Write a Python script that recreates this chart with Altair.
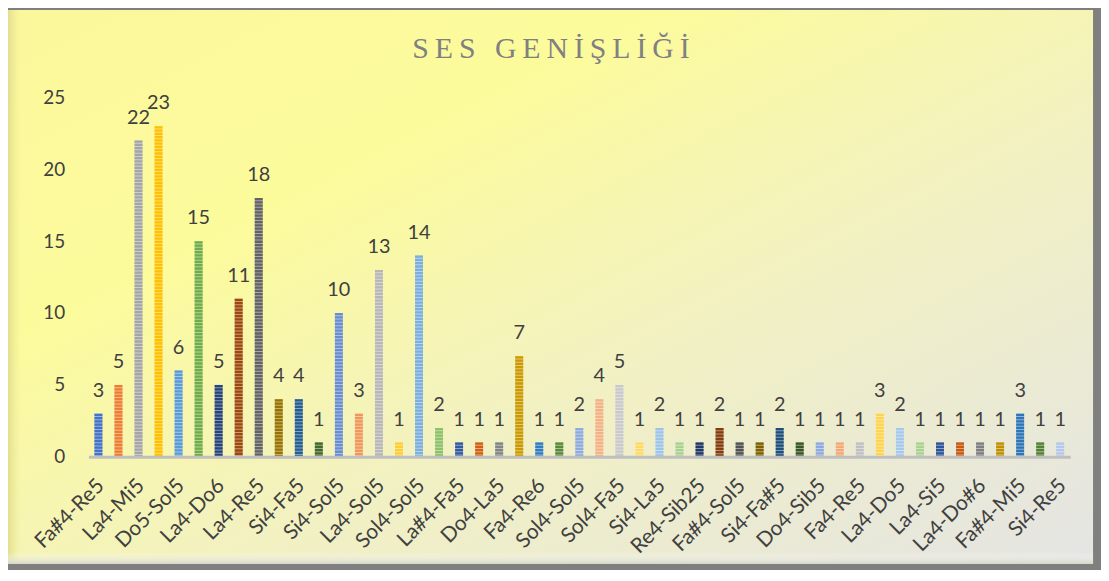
import altair as alt
import pandas as pd

# ---- data ----
values = [3, 5, 22, 23, 6, 15, 5, 11, 18, 4, 4, 1, 10, 3, 13, 1, 14, 2, 1, 1,
          1, 7, 1, 1, 2, 4, 5, 1, 2, 1, 1, 2, 1, 1, 2, 1, 1, 1, 1, 3,
          2, 1, 1, 1, 1, 1, 3, 1, 1]
# labels shown under every other bar (bars 1, 3, 5, ...)
shown_labels = ["Fa#4-Re5", "La4-Mi5", "Do5-Sol5", "La4-Do6", "La4-Re5", "Si4-Fa5",
                "Si4-Sol5", "La4-Sol5", "Sol4-Sol5", "La#4-Fa5", "Do4-La5", "Fa4-Re6",
                "Sol4-Sol5", "Sol4-Fa5", "Si4-La5", "Re4-Sib25", "Fa#4-Sol5", "Si4-Fa#5",
                "Do4-Sib5", "Fa4-Re5", "La4-Do5", "La4-Si5", "La4-Do#6", "Fa#4-Mi5", "Si4-Re5"]
title_text = "SES GENİŞLİĞİ"

colors = ["#4472C4", "#ED7D31", "#A5A5A5", "#FFC000", "#5B9BD5", "#70AD47",
          "#264478", "#9E480E", "#636363", "#997300", "#255E91", "#43682B",
          "#698ED0", "#F1975A", "#B7B7B7", "#FFCD33", "#7CAFDD", "#8CC168",
          "#335AA1", "#D26012", "#848484", "#CC9A00", "#327DC2", "#5A8A39",
          "#8FAADC", "#F4B183", "#C9C9C9", "#FFD966", "#9DC3E6", "#A9D18E",
          "#203864", "#843C0C", "#525252", "#7F6000", "#1F4E79", "#385723",
          "#8EA9DB", "#F3A875", "#C0C0C0", "#FFD34D", "#A5C8EA", "#A9D18E",
          "#2F5597", "#C55A11", "#7F7F7F", "#BF9000", "#2E75B6", "#548235", "#B4C7E7"]


def tint(hexc, f=0.45):
    h = hexc.lstrip("#")
    r, g, b = (int(h[i:i + 2], 16) for i in (0, 2, 4))
    r, g, b = (round(c + (255 - c) * f) for c in (r, g, b))
    return "#%02X%02X%02X" % (r, g, b)


tints = [tint(c) for c in colors]

n = len(values)
idx = list(range(n))
all_labels = []
for i in idx:
    all_labels.append(shown_labels[i // 2] if i % 2 == 0 else "")

df = pd.DataFrame({"idx": idx, "value": values})

label_expr = "[" + ",".join("'" + s + "'" for s in all_labels) + "][datum.value]"

FONT = "Lato"
TXT = "#404040"

x_enc = alt.X("idx:O",
              scale=alt.Scale(paddingInner=0, paddingOuter=0),
              axis=alt.Axis(title=None, labelAngle=-45, labelExpr=label_expr,
                            labelFontSize=21, labelFont=FONT, labelColor=TXT,
                            labelPadding=18, labelOffset=-5, ticks=False, domainColor="#BFBFBF",
                            domainWidth=3, grid=False, labelOverlap=False, zindex=1))
y_enc = alt.Y("value:Q",
              scale=alt.Scale(domain=[0, 25], nice=False),
              axis=alt.Axis(title=None, values=[0, 5, 10, 15, 20, 25], labelFontSize=19,
                            labelFont=FONT, labelColor=TXT, labelPadding=24,
                            domain=False, ticks=False, grid=False, zindex=1))

# background panel with gradient
bg = alt.Chart(pd.DataFrame({"a": [0]})).mark_rect(
    fill=alt.Gradient(gradient="linear", x1=0, y1=0, x2=1, y2=1,
                      stops=[alt.GradientStop(color="#FBF89C", offset=0),
                             alt.GradientStop(color="#FCFB9C", offset=0.3),
                             alt.GradientStop(color="#F2F1C2", offset=0.6),
                             alt.GradientStop(color="#E4E4E4", offset=1)])
).encode(x=alt.value(-81), x2=alt.value(1012), y=alt.value(-88), y2=alt.value(470))

bevel_left = alt.Chart(pd.DataFrame({"a": [0]})).mark_rect(
    fill=alt.Gradient(gradient="linear", x1=0, y1=0, x2=1, y2=0,
                      stops=[alt.GradientStop(color="#E2DE90", offset=0),
                             alt.GradientStop(color="rgba(240,236,150,0)", offset=1)])
).encode(x=alt.value(-81), x2=alt.value(-68), y=alt.value(-88), y2=alt.value(470))

bevel_bottom = alt.Chart(pd.DataFrame({"a": [0]})).mark_rect(
    fill=alt.Gradient(gradient="linear", x1=0, y1=0, x2=0, y2=1,
                      stops=[alt.GradientStop(color="rgba(255,255,255,0)", offset=0),
                             alt.GradientStop(color="#D6D6C8", offset=1)])
).encode(x=alt.value(-81), x2=alt.value(1012), y=alt.value(458), y2=alt.value(470))

base = alt.Chart(df)

bars = base.mark_bar(size=8).encode(
    x=x_enc, y=y_enc,
    color=alt.Color("idx:O", scale=alt.Scale(domain=idx, range=tints), legend=None))

stripes = base.mark_rule(strokeWidth=8, strokeDash=[2.3, 1.0], strokeCap="butt").encode(
    x=alt.X("idx:O"), y=alt.Y("value:Q"), y2=alt.datum(0),
    color=alt.Color("idx:O", scale=alt.Scale(domain=idx, range=colors), legend=None))

labels = base.mark_text(font=FONT, fontSize=20, color=TXT, baseline="alphabetic", dy=-17).encode(
    x=alt.X("idx:O"), y=alt.Y("value:Q"), text="value:Q")

title = alt.Chart(pd.DataFrame({"t": [title_text.replace("", "\u2009").strip("\u2009")]})).mark_text(
    font="Liberation Serif", fontSize=30, color="#808080", baseline="alphabetic", align="center"
).encode(x=alt.value(466), y=alt.value(-40), text="t:N")

chart = alt.layer(bg, bevel_left, bevel_bottom, bars, stripes, labels, title).properties(
    width=989, height=362,
    autosize=alt.AutoSizeParams(type="none"),
    padding={"left": 81, "top": 88, "right": 31, "bottom": 112},
    background="#7F7F7F",
).resolve_scale(color="independent").configure_view(stroke=None)

chart.save("out.html", embed_options={"renderer": "svg", "actions": False})
